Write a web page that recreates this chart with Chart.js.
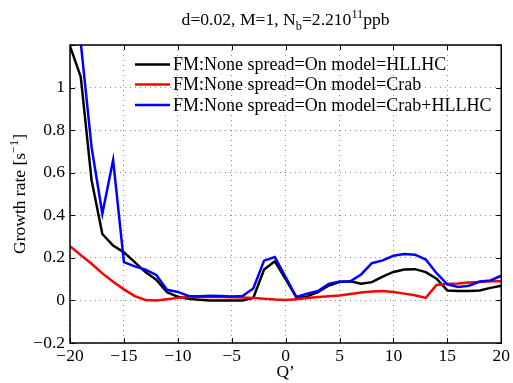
<!DOCTYPE html>
<html>
<head>
<meta charset="utf-8">
<script src="https://cdn.jsdelivr.net/npm/chart.js@4"></script>
<style>
  html, body { margin: 0; padding: 0; background: #fff; }
  #wrap { width: 513px; height: 383px; }
  .fontprobe { font-family: "Liberation Serif"; position: absolute; left: -999px; }
</style>
</head>
<body>
<span class="fontprobe">Qd0</span>
<div id="wrap"><canvas id="growthChart"></canvas></div>
<script>
// data
const qPrime = [-20, -19, -18, -17, -16, -15, -14, -13, -12, -11, -10, -9, -8, -7, -6, -5, -4, -3, -2, -1,
    0, 1, 2, 3, 4, 5, 6, 7, 8, 9, 10, 11, 12, 13, 14, 15, 16, 17, 18, 19, 20];

const rateHLLHC = [1.195, 1.05, 0.565, 0.312, 0.258, 0.226, 0.18, 0.133, 0.097, 0.039, 0.017, 0.008, 0.003, 0, 0, 0, 0, 0.012, 0.145, 0.184,
    0.10, 0.014, 0.019, 0.039, 0.07, 0.086, 0.09, 0.078, 0.086, 0.112, 0.134, 0.145, 0.147, 0.133, 0.102, 0.047, 0.044, 0.044, 0.047, 0.059, 0.069];

const rateCrab = [0.255, 0.213, 0.172, 0.127, 0.088, 0.052, 0.02, 0.002, 0.0, 0.006, 0.012, 0.016, 0.016, 0.016, 0.016, 0.015, 0.014, 0.012, 0.008, 0.004,
    0.002, 0.006, 0.011, 0.016, 0.02, 0.023, 0.03, 0.037, 0.042, 0.044, 0.04, 0.032, 0.024, 0.012, 0.073, 0.078, 0.08, 0.084, 0.087, 0.09, 0.09];

const rateCrabHLLHC = [1.6, 1.21, 0.72, 0.407, 0.66, 0.18, 0.16, 0.145, 0.12, 0.05, 0.04, 0.021, 0.02, 0.022, 0.021, 0.019, 0.021, 0.056, 0.187, 0.204,
    0.11, 0.016, 0.032, 0.044, 0.078, 0.089, 0.09, 0.122, 0.175, 0.188, 0.21, 0.218, 0.215, 0.192, 0.128, 0.075, 0.063, 0.069, 0.089, 0.094, 0.116];

const seriesLabels = [
    'FM:None spread=On model=HLLHC',
    'FM:None spread=On model=Crab',
    'FM:None spread=On model=Crab+HLLHC'
];
const seriesColors = ['#000000', '#ff0000', '#0000ff'];

const xTicks = [-20, -15, -10, -5, 0, 5, 10, 15, 20];
const yTicks = [-0.2, 0, 0.2, 0.4, 0.6, 0.8, 1, 1.2];

const SERIF = "'Liberation Serif', 'Times New Roman', serif";

function minus(v) {
    return String(v).replace('-', '\u2212');
}

// draw text made of normal / sub / super pieces, starting at x
function drawPieces(ctx, pieces, x, y, size) {
    pieces.forEach(function (p) {
        let fs = size, dy = 0;
        if (p.sub) { fs = size * 0.7; dy = size * 0.28; }
        if (p.sup) { fs = size * 0.7; dy = -size * 0.42; }
        ctx.font = fs + 'px ' + SERIF;
        ctx.fillText(p.t, x, y + dy);
        x += ctx.measureText(p.t).width;
    });
}
function piecesWidth(ctx, pieces, size) {
    let w = 0;
    pieces.forEach(function (p) {
        const fs = (p.sub || p.sup) ? size * 0.7 : size;
        ctx.font = fs + 'px ' + SERIF;
        w += ctx.measureText(p.t).width;
    });
    return w;
}

const decorations = {
    id: 'decorations',
    afterDraw(chart) {
        const c = chart.ctx;
        const area = chart.chartArea;
        const xs = chart.scales.x, ys = chart.scales.y;
        c.save();
        c.fillStyle = '#000';
        c.strokeStyle = '#000';

        // box + inward ticks
        c.lineWidth = 1.5;
        c.strokeRect(area.left, area.top, area.right - area.left, area.bottom - area.top);
        c.lineWidth = 1;
        c.beginPath();
        xTicks.forEach(function (v) {
            const px = Math.round(xs.getPixelForValue(v)) + 0.5;
            c.moveTo(px, area.bottom); c.lineTo(px, area.bottom - 5);
            c.moveTo(px, area.top); c.lineTo(px, area.top + 5);
        });
        yTicks.forEach(function (v) {
            const py = Math.round(ys.getPixelForValue(v)) + 0.5;
            c.moveTo(area.left, py); c.lineTo(area.left + 5, py);
            c.moveTo(area.right, py); c.lineTo(area.right - 5, py);
        });
        c.stroke();

        // title
        const title = [{t: 'd=0.02, M=1, N'}, {t: 'b', sub: true}, {t: '=2.210'}, {t: '11', sup: true}, {t: 'ppb'}];
        const tSize = 17.6;
        const cx = (area.left + area.right) / 2;
        c.textBaseline = 'alphabetic';
        c.textAlign = 'left';
        drawPieces(c, title, cx - piecesWidth(c, title, tSize) / 2, 25, tSize);

        // x label
        c.font = '17.5px ' + SERIF;
        c.textAlign = 'center';
        c.fillText('Q\u2019', cx, 377);
        c.textAlign = 'left';

        // y label, rotated
        const yl = [{t: 'Growth rate [s'}, {t: '\u22121', sup: true}, {t: ']'}];
        c.save();
        c.translate(25, 194);
        c.rotate(-Math.PI / 2);
        drawPieces(c, yl, -piecesWidth(c, yl, 17.5) / 2, 0, 17.5);
        c.restore();

        // legend inside the axes, no frame
        c.textBaseline = 'middle';
        c.font = '18px ' + SERIF;
        const rows = [64.5, 84.5, 105];
        seriesLabels.forEach(function (lab, i) {
            c.strokeStyle = seriesColors[i];
            c.lineWidth = 2.5;
            c.beginPath();
            c.moveTo(135, rows[i]); c.lineTo(170, rows[i]);
            c.stroke();
            c.fillStyle = '#000';
            c.fillText(lab, 173, rows[i] + 1);
        });
        c.restore();
    }
};

function buildChart() {
    const canvas = document.getElementById('growthChart');

    new Chart(canvas, {
        type: 'line',
        data: {
            labels: qPrime,
            datasets: [
                { label: seriesLabels[0], data: rateHLLHC, borderColor: seriesColors[0], order: 3 },
                { label: seriesLabels[1], data: rateCrab, borderColor: seriesColors[1], order: 2 },
                { label: seriesLabels[2], data: rateCrabHLLHC, borderColor: seriesColors[2], order: 1 }
            ].map(function (d) {
                d.data = d.data.map(function (y, i) { return { x: qPrime[i], y: y }; });
                d.borderWidth = 2.5;
                d.pointRadius = 0;
                d.tension = 0;
                d.fill = false;
                d.clip = 0;
                return d;
            })
        },
        plugins: [decorations],
        options: {
            responsive: true,
            maintainAspectRatio: false,
            animation: false,
            layout: {
                padding: { top: 45, right: 10, left: 0, bottom: 0 }
            },
            plugins: {
                legend: { display: false },
                title: { display: false },
                tooltip: { enabled: false }
            },
            scales: {
                x: {
                    type: 'linear',
                    min: -20,
                    max: 20,
                    afterFit: function (scale) { scale.height = 40; },
                    afterBuildTicks: function (scale) {
                        scale.ticks = xTicks.map(function (v) { return { value: v }; });
                    },
                    ticks: {
                        color: '#000',
                        padding: 3,
                        maxRotation: 0,
                        font: { family: SERIF, size: 17.5 },
                        callback: function (v) { return minus(v); }
                    },
                    grid: {
                        color: '#8c8c8c',
                        lineWidth: 1,
                        drawTicks: false
                    },
                    border: { display: false, dash: [1, 4] }
                },
                y: {
                    type: 'linear',
                    min: -0.2,
                    max: 1.2,
                    afterFit: function (scale) { scale.width = 70; },
                    afterBuildTicks: function (scale) {
                        scale.ticks = yTicks.map(function (v) { return { value: v }; });
                    },
                    ticks: {
                        color: '#000',
                        padding: 5,
                        font: { family: SERIF, size: 17.5 },
                        callback: function (v) {
                            if (v > 1.1) return '';
                            return minus(Math.round(v * 10) / 10);
                        }
                    },
                    grid: {
                        color: '#8c8c8c',
                        lineWidth: 1,
                        drawTicks: false
                    },
                    border: { display: false, dash: [1, 4] }
                }
            }
        }
    });
}

if (document.fonts && document.fonts.load) {
    document.fonts.load("17px 'Liberation Serif'").then(buildChart, buildChart);
} else {
    buildChart();
}
</script>
</body>
</html>
